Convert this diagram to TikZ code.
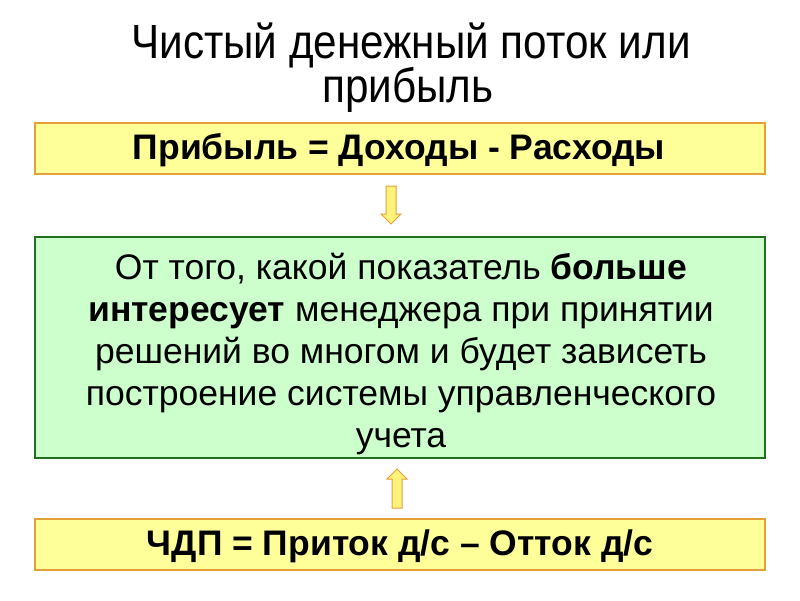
\documentclass[tikz,border=0pt]{standalone}
\usepackage{fontspec}
\setmainfont{Liberation Sans}
\newfontfamily\titlefont[FakeStretch=0.88]{Liberation Sans}
\definecolor{ybox}{HTML}{FFFF99}
\definecolor{yborder}{HTML}{E3A03A}
\definecolor{gbox}{HTML}{CCFFCC}
\definecolor{gborder}{HTML}{1F6F1F}
\definecolor{afill}{HTML}{FFF27A}
\tikzset{
  x=1pt,y=-1pt,
  ybx/.style={draw=yborder,fill=ybox,line width=1.3pt},
  gbx/.style={draw=gborder,fill=gbox,line width=1.3pt},
  blockarrow/.style={draw=yborder,fill=afill,line width=1pt,line join=miter},
  txt/.style={font=\fontsize{35.5}{36}\selectfont\bfseries,text=black},
  ttl/.style={font=\titlefont\fontsize{48}{48}\selectfont,anchor=base}
}
\begin{document}
\begin{tikzpicture}
\useasboundingbox (0,0) rectangle (800,600);
\fill[white] (0,0) rectangle (800,600);
\node[ttl] (title1) at (411,58) {Чистый денежный поток или};
\node[ttl] (title2) at (408,102) {прибыль};
\draw[ybx] (35,123) rectangle (765,174);
\node[txt] (top) at (399,150) {Прибыль = Доходы - Расходы};
\draw[gbx] (35,237) rectangle (765,458);
\node[font=\fontsize{35.5}{42}\selectfont,align=center] (mid) at (401,354) {От того, какой показатель \textbf{больше}\\\textbf{интересует} менеджера при принятии\\решений во многом и будет зависеть\\построение системы управленческого\\учета};
\draw[ybx] (35,519) rectangle (765,570);
\node[txt] (bot) at (400,546) {ЧДП = Приток д/с – Отток д/с};
% down block arrow
\draw[blockarrow] (386,186) -- (396,186) -- (396,214) -- (401,214) -- (391,224) -- (381,214) -- (386,214) -- cycle;
% up block arrow
\draw[blockarrow] (392,508) -- (402,508) -- (402,479) -- (407,479) -- (397,469) -- (387,479) -- (392,479) -- cycle;
\end{tikzpicture}
\end{document}
